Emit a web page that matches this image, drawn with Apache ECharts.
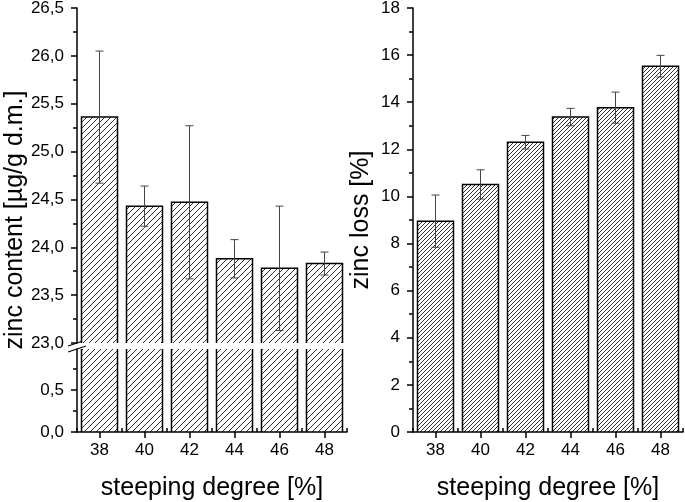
<!DOCTYPE html>
<html>
<head>
<meta charset="utf-8">
<script src="https://cdn.jsdelivr.net/npm/echarts@6/dist/echarts.min.js"></script>
<style>
  html, body { margin: 0; padding: 0; background: #fff; }
  #chart { width: 685px; height: 502px; }
</style>
</head>
<body>
<div id="chart"></div>
<script>
// steeping degree [%]
var steeping = [38, 40, 42, 44, 46, 48];
// zinc content [µg/g d.m.] with standard deviation
var zincContent = [25.36, 24.43, 24.47, 23.88, 23.78, 23.83];
var zincContentErr = [0.69, 0.21, 0.80, 0.20, 0.65, 0.12];
// zinc loss [%] with standard deviation
var zincLoss = [8.95, 10.51, 12.30, 13.37, 13.77, 15.53];
var zincLossErr = [1.11, 0.62, 0.29, 0.37, 0.66, 0.46];

var evenTicks = [38, 40, 42, 44, 46, 48];
var oddTicks = [37, 39, 41, 43, 45, 47, 49];

var FONT = 'Liberation Sans, Arial, sans-serif';

// layout
var L_LEFT = 77, R_LEFT = 413, PLOT_W = 270;
var TOP = 8, BOTTOM_Y = 432;
var BREAK_TOP = 343, BREAK_BOTTOM = 349;

function hatch(p, color) {
    var c = document.createElement('canvas');
    c.width = p;
    c.height = p;
    var g = c.getContext('2d');
    g.fillStyle = '#fff';
    g.fillRect(0, 0, p, p);
    g.strokeStyle = color;
    g.lineWidth = 1;
    g.beginPath();
    g.moveTo(0, p); g.lineTo(p, 0);
    g.moveTo(-1, 1); g.lineTo(1, -1);
    g.moveTo(p - 1, p + 1); g.lineTo(p + 1, p - 1);
    g.stroke();
    return c;
}

var leftHatch = { image: hatch(6, '#333'), repeat: 'repeat' };
var rightHatch = { image: hatch(4, '#333'), repeat: 'repeat' };

function pairs(xs, ys) {
    return xs.map(function (x, i) { return [x, ys[i]]; });
}
function errData(xs, ys, es) {
    return xs.map(function (x, i) { return [x, ys[i] - es[i], ys[i] + es[i]]; });
}

function barItem(fill) {
    return function (params, api) {
        var x = api.value(0);
        var top = api.coord([x, api.value(1)]);
        var base = api.coord([x, 0]);
        var w = api.size([1.6, 0])[0];
        return {
            type: 'rect',
            shape: { x: top[0] - w / 2, y: top[1], width: w, height: base[1] - top[1] },
            style: { fill: fill, stroke: '#000', lineWidth: 1.5 }
        };
    };
}

function errItem(params, api) {
    var x = api.value(0);
    var lo = api.coord([x, api.value(1)]);
    var hi = api.coord([x, api.value(2)]);
    var cap = 4;
    var st = { stroke: '#444', lineWidth: 1 };
    return {
        type: 'group',
        children: [
            { type: 'line', shape: { x1: lo[0], y1: lo[1], x2: hi[0], y2: hi[1] }, style: st },
            { type: 'line', shape: { x1: hi[0] - cap, y1: hi[1], x2: hi[0] + cap, y2: hi[1] }, style: st },
            { type: 'line', shape: { x1: lo[0] - cap, y1: lo[1], x2: lo[0] + cap, y2: lo[1] }, style: st }
        ]
    };
}

var labelStyle = { color: '#000', fontSize: 17, fontFamily: FONT };
var lineStyle = { color: '#000', width: 1.5 };
function comma(v) { return v.toFixed(1).replace('.', ','); }

function mainX(grid, name) {
    return {
        type: 'value', gridIndex: grid, min: 37, max: 49, interval: 1,
        axisLine: { onZero: false, lineStyle: lineStyle },
        axisTick: { customValues: evenTicks, length: 6, lineStyle: { color: '#000', width: 1.5 } },
        axisLabel: Object.assign({ customValues: evenTicks, margin: 10 }, labelStyle),
        splitLine: { show: false },
        name: name, nameLocation: 'middle', nameGap: 44,
        nameTextStyle: { color: '#000', fontSize: 25, fontFamily: FONT }
    };
}
function oddX(grid) {
    return {
        type: 'value', gridIndex: grid, min: 37, max: 49, interval: 1,
        axisLine: { show: false },
        axisTick: { customValues: oddTicks, length: 4, lineStyle: { color: '#000', width: 1.5 } },
        axisLabel: { show: false },
        splitLine: { show: false }
    };
}

var option = {
    backgroundColor: '#fff',
    animation: false,
    grid: [
        { left: L_LEFT, top: TOP, width: PLOT_W, height: BREAK_TOP - TOP, outerBoundsMode: 'none' },
        { left: L_LEFT, top: BREAK_BOTTOM, width: PLOT_W, height: BOTTOM_Y - BREAK_BOTTOM, outerBoundsMode: 'none' },
        { left: R_LEFT, top: TOP, width: PLOT_W, height: BOTTOM_Y - TOP, outerBoundsMode: 'none' }
    ],
    xAxis: [
        { type: 'value', gridIndex: 0, min: 37, max: 49, show: false },
        mainX(1, 'steeping degree [%]'),
        oddX(1),
        mainX(2, 'steeping degree [%]'),
        oddX(2)
    ],
    yAxis: [
        {
            type: 'value', gridIndex: 0, min: 23, max: 26.5, interval: 0.5,
            axisLine: { show: true, lineStyle: lineStyle },
            axisTick: { show: true, length: 6, lineStyle: { color: '#000', width: 1.5 } },
            minorTick: { show: true, splitNumber: 2, length: 4, lineStyle: { color: '#000', width: 1.5 } },
            axisLabel: Object.assign({ margin: 13, formatter: comma }, labelStyle),
            splitLine: { show: false }
        },
        {
            type: 'value', gridIndex: 1, min: 0, max: 0.99, interval: 0.5,
            axisLine: { show: true, lineStyle: lineStyle },
            axisTick: { show: true, customValues: [0, 0.5], length: 6, lineStyle: { color: '#000', width: 1.5 } },
            minorTick: { show: true, splitNumber: 2, length: 4, lineStyle: { color: '#000', width: 1.5 } },
            axisLabel: Object.assign({ margin: 13, customValues: [0, 0.5], formatter: comma }, labelStyle),
            splitLine: { show: false }
        },
        {
            type: 'value', gridIndex: 2, min: 0, max: 18, interval: 2,
            axisLine: { show: true, lineStyle: lineStyle },
            axisTick: { show: true, length: 6, lineStyle: { color: '#000', width: 1.5 } },
            minorTick: { show: true, splitNumber: 2, length: 4, lineStyle: { color: '#000', width: 1.5 } },
            axisLabel: Object.assign({ margin: 13 }, labelStyle),
            splitLine: { show: false },
            name: 'zinc loss [%]', nameLocation: 'middle', nameGap: 39, nameRotate: 90,
            nameTextStyle: { color: '#000', fontSize: 25, fontFamily: FONT }
        }
    ],
    series: [
        { type: 'custom', xAxisIndex: 0, yAxisIndex: 0, clip: true, renderItem: barItem(leftHatch), data: pairs(steeping, zincContent) },
        { type: 'custom', xAxisIndex: 1, yAxisIndex: 1, clip: true, renderItem: barItem(leftHatch), data: pairs(steeping, zincContent) },
        { type: 'custom', xAxisIndex: 0, yAxisIndex: 0, clip: true, renderItem: errItem, data: errData(steeping, zincContent, zincContentErr) },
        { type: 'custom', xAxisIndex: 3, yAxisIndex: 2, clip: true, renderItem: barItem(rightHatch), data: pairs(steeping, zincLoss) },
        { type: 'custom', xAxisIndex: 3, yAxisIndex: 2, clip: true, renderItem: errItem, data: errData(steeping, zincLoss, zincLossErr) }
    ],
    graphic: [
        {
            type: 'text', x: 15, y: 220, rotation: Math.PI / 2,
            style: { text: 'zinc content [µg/g d.m.]', font: '25px ' + FONT, fill: '#000', textAlign: 'center', textVerticalAlign: 'middle' }
        },
        // axis break marks
        { type: 'line', shape: { x1: L_LEFT - 9, y1: BREAK_TOP + 3, x2: L_LEFT + 9, y2: BREAK_TOP - 3 }, style: { stroke: '#000', lineWidth: 1.2 } },
        { type: 'line', shape: { x1: L_LEFT - 9, y1: BREAK_BOTTOM + 3, x2: L_LEFT + 9, y2: BREAK_BOTTOM - 3 }, style: { stroke: '#000', lineWidth: 1.2 } }
    ]
};

var chart = echarts.init(document.getElementById('chart'), null, { renderer: 'canvas' });
chart.setOption(option);
</script>
</body>
</html>
